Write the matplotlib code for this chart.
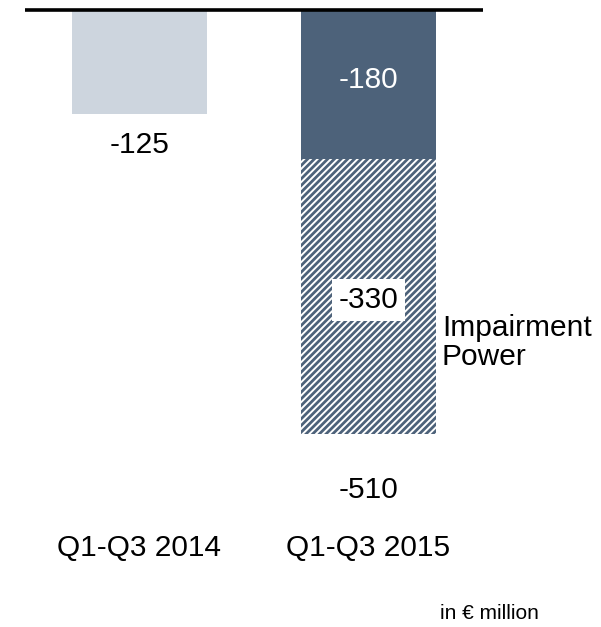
import matplotlib.pyplot as plt

plt.rcParams['font.family'] = ['Liberation Sans', 'DejaVu Sans']
plt.rcParams['hatch.linewidth'] = 2.0

categories = ['Q1-Q3 2014', 'Q1-Q3 2015']
base_values = [-125, -180]
impairment_values = [0, -330]
totals = [-125, -510]

light = '#cdd5de'
dark = '#4d627a'

fig = plt.figure(figsize=(6.01, 6.27), dpi=100)
ax = fig.add_axes([0, 0, 1, 1])
ax.set_xlim(-0.609, 2.015)
ax.set_ylim(-743, 12)
ax.axis('off')

x = [0, 1]
w = 0.59
ax.bar(x[0], base_values[0], width=w, color=light, linewidth=0)
ax.bar(x[1], base_values[1], width=w, color=dark, linewidth=0)
ax.bar(x[1], impairment_values[1], bottom=base_values[1], width=w,
       facecolor='white', edgecolor=dark, hatch='/////', linewidth=0)

ax.plot([-0.5, 1.5], [0, 0], color='black', lw=2.6, solid_capstyle='butt')

fs = 21.5
ax.text(x[0], -162, f'{base_values[0]}', ha='center', va='center', fontsize=fs)
ax.text(x[1], -84, f'{base_values[1]}', ha='center', va='center', fontsize=fs, color='white')
ax.text(x[1], -349, f'{impairment_values[1]}', ha='center', va='center', fontsize=fs,
        bbox=dict(facecolor='white', edgecolor='none', pad=5))
ax.text(1.32, -400, 'Impairment\nPower', ha='left', va='center', fontsize=fs, linespacing=1.05)
ax.text(x[1], -578, f'{totals[1]}', ha='center', va='center', fontsize=fs)

for xi, cat in zip(x, categories):
    ax.text(xi, -648, cat, ha='center', va='center', fontsize=fs)

ax.text(1.526, -727, 'in € million', ha='center', va='center', fontsize=15)

fig.savefig('out.png', dpi=100)
